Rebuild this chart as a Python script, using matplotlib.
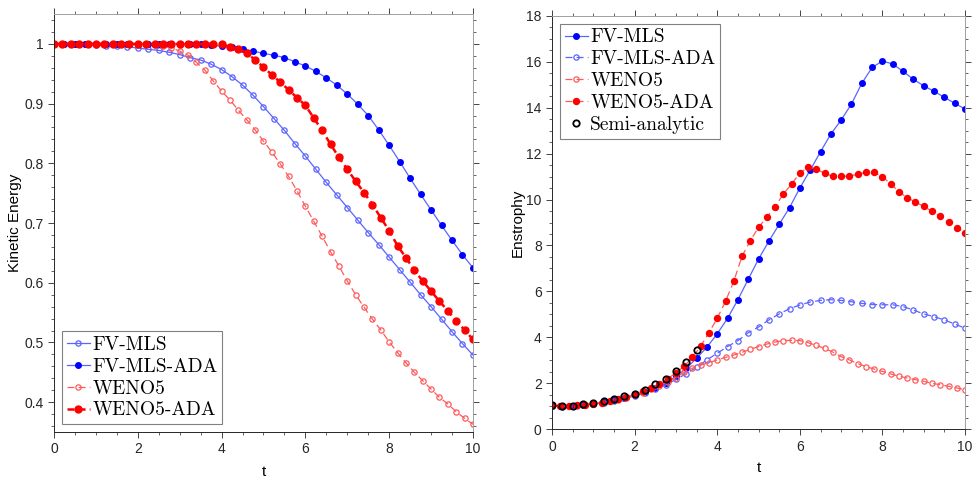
import matplotlib
matplotlib.use("Agg")
import matplotlib.pyplot as plt
import numpy as np
from matplotlib.ticker import MultipleLocator

plt.rcParams['font.family'] = ['Liberation Sans', 'DejaVu Sans']
plt.rcParams['lines.scale_dashes'] = False

# time axes
t_mls = np.arange(41) * 0.25
t_weno = np.arange(51) * 0.2
t_semi = np.arange(15) * 0.25

# kinetic energy (left)
ke_mls = [1.000, 1.000, 0.9995, 0.999, 0.998, 0.997, 0.996, 0.995, 0.993, 0.991,
          0.989, 0.986, 0.982, 0.977, 0.973, 0.966, 0.957, 0.945, 0.931, 0.914,
          0.895, 0.875, 0.855, 0.833, 0.812, 0.790, 0.768, 0.747, 0.726, 0.705,
          0.684, 0.664, 0.643, 0.622, 0.601, 0.580, 0.560, 0.539, 0.518, 0.498,
          0.479]
ke_mls_ada = [1.0, 1.0, 1.0, 1.0, 1.0, 1.0, 1.0, 1.0, 1.0, 1.0,
              1.0, 1.0, 1.0, 1.0, 0.999, 0.998, 0.996, 0.994, 0.991, 0.988,
              0.984, 0.981, 0.977, 0.970, 0.963, 0.954, 0.943, 0.931, 0.916, 0.899,
              0.880, 0.856, 0.830, 0.803, 0.775, 0.748, 0.722, 0.696, 0.671, 0.647,
              0.625]
ke_weno = [1.0, 1.0, 1.0, 1.0, 1.0, 1.0, 1.0, 1.0, 1.0, 1.0,
           1.0, 0.999, 0.998, 0.996, 0.993, 0.988, 0.981, 0.969, 0.956, 0.938,
           0.921, 0.906, 0.889, 0.873, 0.856, 0.837, 0.819, 0.799, 0.778, 0.754,
           0.728, 0.703, 0.678, 0.652, 0.628, 0.603, 0.580, 0.559, 0.539, 0.521,
           0.501, 0.483, 0.466, 0.450, 0.436, 0.422, 0.408, 0.397, 0.384, 0.373,
           0.363]
ke_weno_ada = [1.0, 1.0, 1.0, 1.0, 1.0, 1.0, 1.0, 1.0, 1.0, 1.0,
               1.0, 1.0, 1.0, 1.0, 1.0, 1.0, 1.0, 1.0, 1.0, 1.0,
               0.999, 0.995, 0.991, 0.985, 0.973, 0.961, 0.948, 0.936, 0.923, 0.910,
               0.897, 0.876, 0.855, 0.832, 0.810, 0.790, 0.770, 0.751, 0.731, 0.709,
               0.687, 0.662, 0.642, 0.621, 0.603, 0.586, 0.569, 0.553, 0.536, 0.521,
               0.505]

# enstrophy (right)
en_mls = [1.03, 1.00, 1.01, 1.05, 1.10, 1.17, 1.26, 1.36, 1.48, 1.62,
          1.80, 2.02, 2.30, 2.65, 3.09, 3.57, 4.16, 4.83, 5.64, 6.53,
          7.41, 8.19, 8.92, 9.65, 10.50, 11.28, 12.08, 12.85, 13.46, 14.16,
          15.06, 15.75, 16.03, 15.90, 15.58, 15.23, 14.95, 14.71, 14.45, 14.19,
          13.94]
en_mls_ada = [1.03, 0.99, 1.00, 1.04, 1.09, 1.16, 1.24, 1.34, 1.45, 1.58,
              1.74, 1.93, 2.17, 2.42, 2.70, 3.02, 3.31, 3.60, 3.86, 4.20,
              4.45, 4.76, 5.02, 5.25, 5.41, 5.54, 5.61, 5.64, 5.61, 5.55,
              5.48, 5.43, 5.42, 5.42, 5.34, 5.19, 5.02, 4.90, 4.76, 4.58,
              4.40]
en_weno = [1.03, 1.01, 1.01, 1.03, 1.06, 1.10, 1.15, 1.21, 1.29, 1.38,
           1.48, 1.60, 1.74, 1.90, 2.07, 2.25, 2.48, 2.66, 2.79, 2.90,
           3.02, 3.13, 3.23, 3.35, 3.48, 3.60, 3.71, 3.80, 3.86, 3.87,
           3.86, 3.77, 3.65, 3.52, 3.36, 3.16, 3.02, 2.86, 2.73, 2.62,
           2.52, 2.41, 2.31, 2.23, 2.16, 2.09, 2.00, 1.94, 1.87, 1.80,
           1.72]
en_weno_ada = [1.04, 1.02, 1.02, 1.04, 1.07, 1.11, 1.16, 1.23, 1.31, 1.41,
               1.52, 1.65, 1.80, 1.98, 2.20, 2.45, 2.75, 3.13, 3.62, 4.21,
               4.83, 5.57, 6.44, 7.53, 8.21, 8.79, 9.23, 9.69, 10.24, 10.67,
               11.16, 11.40, 11.33, 11.14, 11.01, 11.01, 11.02, 11.10, 11.18, 11.18,
               10.99, 10.68, 10.34, 10.08, 9.89, 9.70, 9.49, 9.27, 9.01, 8.78,
               8.56]
en_semi = [1.05, 1.01, 1.03, 1.09, 1.15, 1.23, 1.31, 1.43, 1.55, 1.72,
           1.96, 2.18, 2.52, 2.91, 3.43]

blue = '#0000ff'
lblue = '#5a64ff'
red = '#ff0000'
lred = '#ff5a5a'
dash = (0, (5, 3))

fig = plt.figure(figsize=(9.75, 4.79), dpi=100)
ax1 = fig.add_axes([0.0554, 0.098, 0.4297, 0.8727])
ax2 = fig.add_axes([0.5662, 0.1038, 0.4236, 0.8633])

ax1.plot(t_mls, ke_mls, '-', color=lblue, lw=0.9, marker='o', ms=3.8, mfc='none',
         mec=lblue, mew=0.9, label='FV-MLS')
ax1.plot(t_mls, ke_mls_ada, '-', color=lblue, lw=0.9, marker='o', ms=4.0, mfc=blue,
         mec=blue, label='FV-MLS-ADA')
ax1.plot(t_weno, ke_weno, ls=dash, color=lred, lw=0.9, marker='o', ms=3.8, mfc='none',
         mec=lred, mew=0.9, label='WENO5')
ax1.plot(t_weno, ke_weno_ada, ls=dash, color=red, lw=1.8, marker='o', ms=5.0, mfc=red,
         mec=red, label='WENO5-ADA')

ax2.plot(t_mls, en_mls, '-', color=lblue, lw=0.9, marker='o', ms=4.0, mfc=blue,
         mec=blue, label='FV-MLS')
ax2.plot(t_mls, en_mls_ada, ls=dash, color=lblue, lw=0.9, marker='o', ms=3.8, mfc='none',
         mec=lblue, mew=0.9, label='FV-MLS-ADA')
ax2.plot(t_weno, en_weno, ls=dash, color=lred, lw=0.9, marker='o', ms=3.8, mfc='none',
         mec=lred, mew=0.9, label='WENO5')
ax2.plot(t_weno, en_weno_ada, ls=dash, color=lred, lw=0.9, marker='o', ms=4.3, mfc=red,
         mec=red, label='WENO5-ADA')
ax2.plot(t_semi, en_semi, 'o', color='black', ms=4.6, mfc='none', mew=1.3,
         label='Semi-analytic')

ax1.set_xlim(0, 10)
ax1.set_ylim(0.35, 1.05)
ax1.set_yticks([0.4, 0.5, 0.6, 0.7, 0.8, 0.9, 1.0])
ax1.set_yticklabels(['0.4', '0.5', '0.6', '0.7', '0.8', '0.9', '1'])
ax1.xaxis.set_minor_locator(MultipleLocator(0.5))
ax1.yaxis.set_minor_locator(MultipleLocator(0.02))
ax1.set_xlabel('t', fontsize=11, labelpad=6)
ax1.set_ylabel('Kinetic Energy', fontsize=11, labelpad=1.5)

ax2.set_xlim(0, 10)
ax2.set_ylim(0, 18)
ax2.set_yticks(range(0, 19, 2))
ax2.xaxis.set_minor_locator(MultipleLocator(0.5))
ax2.yaxis.set_minor_locator(MultipleLocator(0.5))
ax2.set_xlabel('t', fontsize=11, labelpad=5)
ax2.set_ylabel('Enstrophy', fontsize=11, labelpad=1)

for ax in (ax1, ax2):
    ax.tick_params(which='both', direction='out', top=True, right=True,
                   labelsize=10, colors='#262626')
    ax.tick_params(which='major', length=4, width=0.6)
    ax.tick_params(which='minor', length=2, width=0.5)
    ax.spines['left'].set_color('#262626')
    ax.spines['bottom'].set_color('#262626')
    ax.spines['top'].set_color('#a0a0a0')
    ax.spines['right'].set_color('#a0a0a0')
    for s in ax.spines.values():
        s.set_linewidth(0.7)

leg_font = {'family': 'cmr10', 'size': 14}
l1 = ax1.legend(loc='lower left', prop=leg_font, fancybox=False, framealpha=1,
                edgecolor='#808080', handlelength=1.2, handletextpad=0.12,
                labelspacing=0.2, borderpad=0.25, borderaxespad=0.4)
l2 = ax2.legend(loc='upper left', prop=leg_font, fancybox=False, framealpha=1,
                edgecolor='#808080', handlelength=1.2, handletextpad=0.12,
                labelspacing=0.2, borderpad=0.25, borderaxespad=0.4)
for l in (l1, l2):
    l.get_frame().set_linewidth(0.8)

fig.savefig('out.png', dpi=100)
